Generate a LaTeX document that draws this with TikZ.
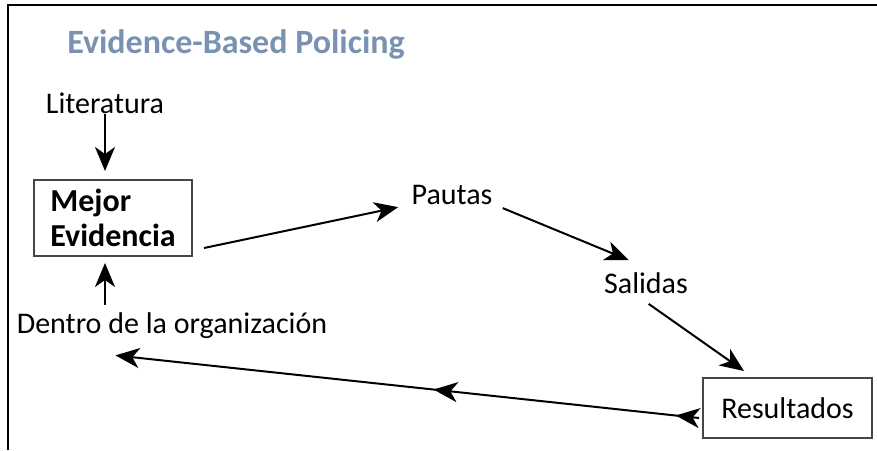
\documentclass[tikz,border=0pt]{standalone}
\usepackage{fontspec}
\setmainfont{Carlito}
\usetikzlibrary{positioning}
\usetikzlibrary{calc}
\usetikzlibrary{arrows.meta}
\usetikzlibrary{decorations.markings}

\definecolor{titleblue}{RGB}{122,146,178}
\definecolor{boxgray}{RGB}{70,70,70}

\begin{document}
\begin{tikzpicture}[x=0.5pt, y=-0.5pt,
    every node/.style={font=\fontsize{15}{18}\selectfont, inner sep=0pt},
    tip/.style={-{Stealth[length=12pt, width=10pt, inset=3.5pt]}, line width=1pt},
    stepbox/.style={draw=boxgray, line width=1pt, inner sep=0pt},
    flowback/.style={line width=1pt, postaction={decorate},
      decoration={markings,
        mark=at position 0.04 with {\arrow{Stealth[length=12pt, width=10pt, inset=3.5pt]}},
        mark=at position 0.455 with {\arrow{Stealth[length=12pt, width=10pt, inset=3.5pt]}}}}]
      \useasboundingbox (0,0) rectangle (877,450);
      \draw[line width=1pt] (8,450) -- (8,5) -- (877,5);

      \node[text=titleblue, font=\fontsize{17}{20}\bfseries] (title) at (236,44) {Evidence-Based Policing};
      \node (lit) at (105,103) {Literatura};
      \node[stepbox, minimum width=79pt, minimum height=38pt, inner xsep=7pt,
            align=left, font=\fontsize{16}{17.5}\bfseries] (best) at (113,218)
        {Mejor\\Evidencia};
      \node (dentro) at (172,326) {Dentro de la organización};
      \node (pautas) at (452,195) {Pautas};
      \node (salidas) at (646,283) {Salidas};
      \node[stepbox, minimum width=84.5pt, minimum height=30pt] (res) at (787.5,408) {Resultados};

      \draw[tip] (lit.south) -- ($(lit.south |- best.north)+(0,-8)$);
      \draw[tip] ($(dentro.north -| lit.south)+(0,-8)$) -- ($(best.south -| lit.south)+(0,6)$);
      \draw[tip] ($(best.south east)+(11,-9)$) -- ($(pautas.south west)+(-13,2)$);
      \draw[tip] ($(pautas.south east)+(10,3)$) -- ($(salidas.north west)+(25,-12)$);
      \draw[tip] ($(salidas.south west)+(45,10)$) -- ($(res.north west)+(42,-6)$);
      \draw[flowback, tip] ($(res.west)+(-3,10)$) -- ($(dentro.south west)+(99,16)$);
\end{tikzpicture}
\end{document}
